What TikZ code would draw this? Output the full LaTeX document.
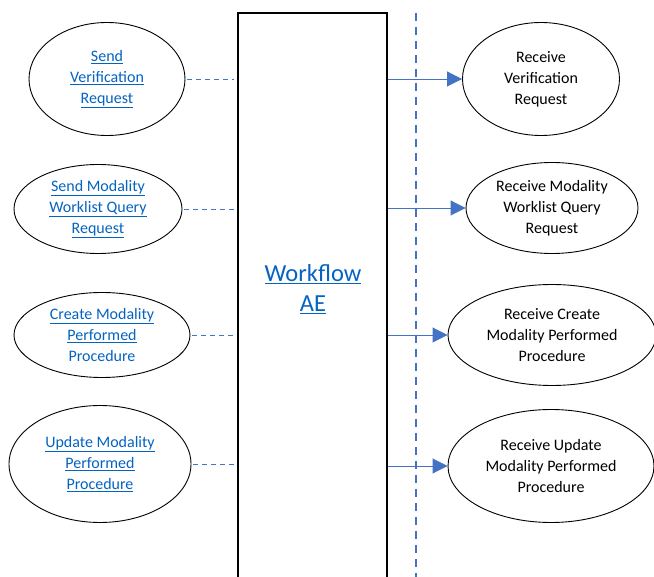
\documentclass[tikz,border=0pt]{standalone}
\usepackage{fontspec}
\setmainfont{Carlito}
\usepackage{tikz}
\usepackage{xcolor}
\usetikzlibrary{positioning, arrows.meta, shapes.geometric, calc}
\definecolor{lnkBlue}{HTML}{0563C1}
\definecolor{lineBlue}{HTML}{4472C4}
\newcommand{\lnk}[1]{\underline{#1}}

\begin{document}
\begin{tikzpicture}[x=1pt, y=-1pt,
  usecase/.style={draw, ellipse, inner sep=0pt, align=center, line width=0.9pt,
                  font=\fontsize{16}{21}\selectfont},
  sendcase/.style={usecase, text=lnkBlue},
  aebox/.style={draw, line width=1.6pt, minimum width=149pt, minimum height=600pt,
                inner sep=0pt},
  aelabel/.style={text=lnkBlue, align=center, font=\fontsize{24.5}{30}\selectfont},
  assoc/.style={draw=lineBlue, line width=0.9pt, dash pattern=on 5pt off 4pt,
                shorten <=2pt, shorten >=3pt},
  msg/.style={draw=lineBlue, line width=0.9pt, -{Triangle[length=15pt, width=15pt]}},
  lane/.style={draw=lineBlue, line width=1.6pt, dash pattern=on 8pt off 6pt},
]
  \clip (0,0) rectangle (654,577);

  % application entity
  \node[aebox] (wf) at (312.5,313) {};
  \node[aelabel] (wfl) at (313,289) {\lnk{Workflow}\\\lnk{AE}};

  % boundary
  \coordinate (bt) at (416,13);
  \coordinate (bb) at (416,577);
  \draw[lane] (bt) -- (bb);

  % local use cases
  \node[sendcase, minimum width=156pt, minimum height=113pt] (sv) at (107,79)
    {\lnk{Send}\\\lnk{Verification}\\\lnk{Request}};
  \node[sendcase, minimum width=168pt, minimum height=89pt] (sm) at (98,209)
    {\lnk{Send Modality}\\\lnk{Worklist Query}\\\lnk{Request}};
  \node[sendcase, minimum width=176pt, minimum height=85pt] (cm) at (102,335)
    {\lnk{Create Modality}\\\lnk{Performed}\\Procedure};
  \node[sendcase, minimum width=182pt, minimum height=117pt] (um) at (100,464)
    {\lnk{Update Modality}\\\lnk{Performed}\\\lnk{Procedure}};

  % remote use cases
  \node[usecase, minimum width=157pt, minimum height=113pt] (rv) at (541,79)
    {Receive\\Verification\\Request};
  \node[usecase, minimum width=172pt, minimum height=91pt] (rm) at (552,208)
    {Receive Modality\\Worklist Query\\Request};
  \node[usecase, minimum width=208pt, minimum height=101pt] (rc) at (552,335)
    {Receive Create\\Modality Performed\\Procedure};
  \node[usecase, minimum width=206pt, minimum height=113pt] (ru) at (551,466)
    {Receive Update\\Modality Performed\\Procedure};

  \foreach \uc in {sv, sm, cm, um}
    \draw[assoc] (\uc.east) -- (wf.west |- \uc.east);
  \foreach \uc in {rv, rm, rc, ru}
    \draw[msg] (wf.east |- \uc.west) -- (\uc.west);
\end{tikzpicture}
\end{document}
